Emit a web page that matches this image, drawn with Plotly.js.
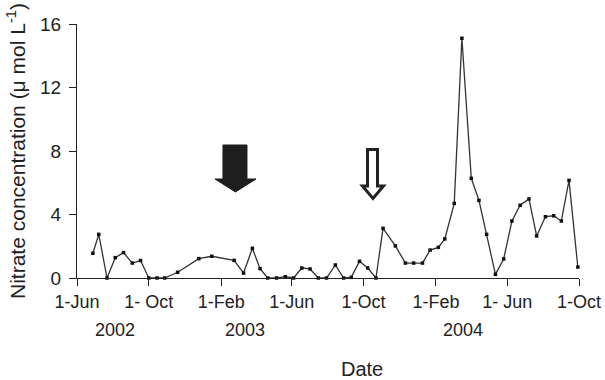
<!DOCTYPE html>
<html>
<head>
<meta charset="utf-8">
<script src="https://cdn.plot.ly/plotly-3.0.1.min.js"></script>
<style>html,body{margin:0;padding:0;background:#fff;}#chart{width:605px;height:380px;}</style>
</head>
<body>
<div id="chart"></div>
<script>
// Sampling dates and nitrate concentrations (µmol/L)
const dates = [
  '2002-06-28','2002-07-08','2002-07-22','2002-08-05','2002-08-19','2002-09-03','2002-09-17',
  '2002-10-01','2002-10-15','2002-10-28','2002-11-19','2002-12-25','2003-01-16','2003-02-23',
  '2003-03-11','2003-03-26','2003-04-08','2003-04-21','2003-05-06','2003-05-21','2003-06-04',
  '2003-06-18','2003-07-02','2003-07-16','2003-07-30','2003-08-14','2003-08-28','2003-09-10',
  '2003-09-24','2003-10-08','2003-10-22','2003-11-03','2003-11-24','2003-12-11','2003-12-25',
  '2004-01-09','2004-01-22','2004-02-05','2004-02-16','2004-03-03','2004-03-16','2004-04-01',
  '2004-04-14','2004-04-27','2004-05-12','2004-05-26','2004-06-09','2004-06-23','2004-07-08',
  '2004-07-21','2004-08-05','2004-08-19','2004-09-01','2004-09-14','2004-09-29'
];
const nitrate = [
  1.56, 2.75, 0, 1.28, 1.6, 0.94, 1.1,
  0, 0, 0, 0.36, 1.22, 1.37, 1.11,
  0.31, 1.87, 0.59, 0, 0, 0.08, 0,
  0.63, 0.57, 0, 0, 0.82, 0, 0.04,
  1.05, 0.63, 0, 3.13, 2.02, 0.94, 0.94,
  0.94, 1.76, 1.93, 2.46, 4.7, 15.1, 6.28,
  4.89, 2.75, 0.23, 1.2, 3.59, 4.58, 4.98,
  2.65, 3.86, 3.92, 3.59, 6.15, 0.69
];
const tickDates = ['2002-06-01','2002-10-01','2003-02-01','2003-06-01','2003-10-01','2004-02-01','2004-06-01','2004-10-01'];
const tickLabels = ['1-Jun','1- Oct','1-Feb','1-Jun','1-Oct','1-Feb','1- Jun','1-Oct'];
const yTicks = [0, 4, 8, 12, 16];
const yearLabels = ['2002', '2003', '2004'];
const yearDates = ['2002-08-05', '2003-03-14', '2004-03-18'];

const W = 605, H = 380;
const M = {l: 77, r: 26, t: 24, b: 102};
const pw = W - M.l - M.r, ph = H - M.t - M.b;
const px = x => ((x - M.l) / pw).toFixed(4);
const py = y => ((H - M.b - y) / ph).toFixed(4);
function poly(pts) {
  return 'M ' + pts.map(p => px(p[0]) + ' ' + py(p[1])).join(' L ') + ' Z';
}

const font = {family: 'Liberation Sans, Arial, sans-serif', color: '#222'};

const trace = {
  x: dates, y: nitrate, type: 'scatter', mode: 'lines+markers',
  line: {color: '#333', width: 1.3},
  marker: {symbol: 'square', size: 3.5, color: '#111'},
  cliponaxis: false, hoverinfo: 'x+y'
};

const annotations = yearLabels.map((t, i) => ({
  text: t, x: yearDates[i], xref: 'x', y: py(330), yref: 'paper',
  showarrow: false, xanchor: 'center', yanchor: 'middle',
  font: Object.assign({size: 18}, font)
}));
annotations.push({
  text: 'Date', x: px(362), xref: 'paper', y: py(369), yref: 'paper',
  showarrow: false, xanchor: 'center', yanchor: 'middle',
  font: Object.assign({size: 20}, font)
});

const shapes = [
  {type: 'path', xref: 'paper', yref: 'paper',
   path: poly([[223,145],[247,145],[247,179],[256,179],[235.5,192],[215,179],[223,179]]),
   fillcolor: '#1e1e1e', line: {color: '#1e1e1e', width: 1}},
  {type: 'path', xref: 'paper', yref: 'paper',
   path: poly([[367.5,149.5],[377.5,149.5],[377.5,186],[383.5,186],[373,198.5],[362.5,186],[367.5,186]]),
   fillcolor: '#fff', line: {color: '#222', width: 3}}
];

const layout = {
  width: W, height: H,
  margin: {l: M.l, r: M.r, t: M.t, b: M.b, pad: 0},
  paper_bgcolor: '#fff', plot_bgcolor: '#fff',
  showlegend: false,
  font: font,
  xaxis: {
    type: 'date', range: ['2002-06-01', '2004-10-01'],
    tickmode: 'array', tickvals: tickDates, ticktext: tickLabels,
    ticks: 'outside', ticklen: 7, tickwidth: 1, tickcolor: '#222',
    showline: true, linecolor: '#222', linewidth: 1,
    showgrid: false, zeroline: false,
    tickfont: Object.assign({size: 18}, font)
  },
  yaxis: {
    range: [0, 16], tickmode: 'array', tickvals: yTicks, ticktext: yTicks.map(String),
    ticks: 'outside', ticklen: 7, tickwidth: 1, tickcolor: '#222',
    showline: true, linecolor: '#222', linewidth: 1,
    showgrid: false, zeroline: false, ticklabelstandoff: 4,
    tickfont: Object.assign({size: 19}, font),
    title: {text: 'Nitrate concentration (μ mol L<sup>-1</sup>)', font: Object.assign({size: 21}, font), standoff: 8}
  },
  annotations: annotations,
  shapes: shapes
};

Plotly.newPlot('chart', [trace], layout, {displayModeBar: false, staticPlot: true});
</script>
</body>
</html>
